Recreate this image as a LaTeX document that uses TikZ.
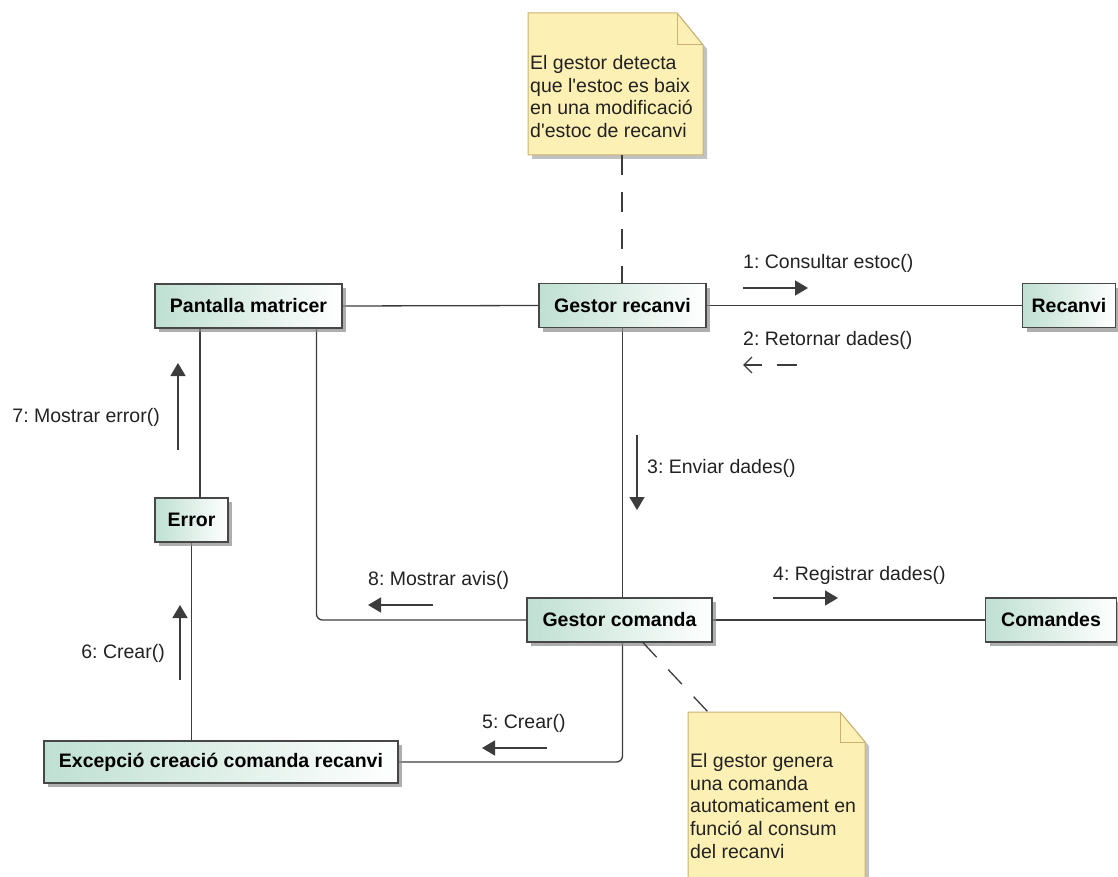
\documentclass[tikz,border=0pt]{standalone}
\usepackage{fontspec}
\setmainfont{Liberation Sans}
\usetikzlibrary{arrows.meta,shadows,backgrounds}
\definecolor{edge}{HTML}{3C3C3C}
\definecolor{boxline}{HTML}{474747}
\definecolor{mint}{HTML}{BFE0D2}
\definecolor{notefill}{HTML}{FDF0B4}
\definecolor{noteline}{HTML}{C9B271}
\definecolor{msgtext}{HTML}{222222}
\frenchspacing

\begin{document}
\begin{tikzpicture}[x=1pt,y=-1pt,
  obj/.style={draw=boxline, line width=1.3pt, left color=mint, right color=white,
    minimum height=44pt, inner sep=0pt,
    font=\fontsize{19.5}{23}\selectfont\bfseries,
    drop shadow={shadow xshift=4pt, shadow yshift=-4pt, fill=black!45, opacity=.7}},
  link/.style={draw=edge, line width=1.3pt},
  notelink/.style={draw=edge, line width=1.3pt, dash pattern=on 20pt off 17pt},
  msg/.style={font=\fontsize{19.5}{23}\selectfont, text=msgtext, inner sep=0pt},
  call/.style={draw=edge, line width=1.5pt, -{Triangle[length=13pt,width=15pt]}},
  reply/.style={draw=edge, line width=1.3pt, dash pattern=on 20pt off 15pt,
    -{Straight Barb[length=8pt,width=16pt]}},
  notebody/.style={draw=noteline, fill=notefill, line width=1pt,
    drop shadow={shadow xshift=4pt, shadow yshift=-4pt, fill=black!40, opacity=.6}},
  notefold/.style={draw=noteline, line width=1pt},
  notetext/.style={font=\fontsize{19.5}{22.7}\selectfont, text=msgtext, align=left,
    inner sep=0pt, anchor=north west}
]
\useasboundingbox (0,0) rectangle (1118,877);

% objects
\node[obj, minimum width=187pt] (pm) at (248.5,306) {Pantalla matricer};
\node[obj, minimum width=167pt] (gr) at (622.5,305.5) {Gestor recanvi};
\node[obj, minimum width=93pt] (rc) at (1069,305.5) {Recanvi};
\node[obj, minimum width=73pt] (er) at (191.5,520) {Error};
\node[obj, minimum width=185pt] (gc) at (619.5,620) {Gestor comanda};
\node[obj, minimum width=131pt] (cm) at (1051,620) {Comandes};
\node[obj, minimum width=354pt, minimum height=42pt] (ex) at (221,762) {Excepció creació comanda recanvi};

% links between objects
\begin{pgfonlayer}{background}
\draw[link] (pm.east) -- (gr.west);
\draw[link] (gr.east) -- (rc.west);
\draw[link] (gr.south) -- (gr.south |- gc.north);
\draw[link, rounded corners=6pt] (gr.south |- gc.south) |- (ex.east);
\draw[link] ([xshift=8.5pt]er.north) -- ([xshift=8.5pt]er.north |- pm.south);
\draw[link] (er.south) -- (er.south |- ex.north);
\draw[link, rounded corners=6pt] ([xshift=68pt]pm.south) |- (gc.west);
\draw[link] (gc.east) -- (cm.west);
\end{pgfonlayer}

% note on the stock manager
\path[notebody] (528,13) -- (677,13) -- (703,45) -- (703,155) -- (528,155) -- cycle;
\draw[notefold] (677,13) -- (677,45) -- (703,45);
\node[notetext] (n1) at (530,55) {El gestor detecta\\que l\textquotesingle estoc es baix\\en una modificació\\d\textquotesingle estoc de recanvi};
\coordinate (n1b) at (622,155);
\draw[notelink] (n1b) -- (n1b |- gr.north);

% note on the order manager
\path[notebody] (688,712) -- (840,712) -- (865,742) -- (865,895) -- (688,895) -- cycle;
\draw[notefold] (840,712) -- (840,742) -- (865,742);
\node[notetext] (n2) at (690,753) {El gestor genera\\una comanda\\automaticament en\\funció al consum\\del recanvi};
\coordinate (n2t) at (708,712);
\draw[notelink] ([xshift=23.5pt]gc.south) -- (n2t);

% messages
\node[msg, anchor=west] (m1) at (743,263) {1: Consultar estoc()};
\draw[call] (743,288) -- (808,288);
\node[msg, anchor=west] (m2) at (743,340) {2: Retornar dades()};
\draw[reply] (797,365) -- (743,365);
\node[msg, anchor=west] (m3) at (647,468) {3: Enviar dades()};
\draw[call] (637,435) -- (637,510);
\node[msg, anchor=west] (m4) at (773,575) {4: Registrar dades()};
\draw[call] (773,598) -- (838,598);
\node[msg, anchor=west] (m5) at (482,723) {5: Crear()};
\draw[call] (547,748) -- (482,748);
\node[msg, anchor=east] (m6) at (165,653) {6: Crear()};
\draw[call] (180,680) -- (180,605);
\node[msg, anchor=east] (m7) at (160,417) {7: Mostrar error()};
\draw[call] (178,450) -- (178,363);
\node[msg, anchor=west] (m8) at (368,580) {8: Mostrar avis()};
\draw[call] (433,605) -- (368,605);
\end{tikzpicture}
\end{document}
